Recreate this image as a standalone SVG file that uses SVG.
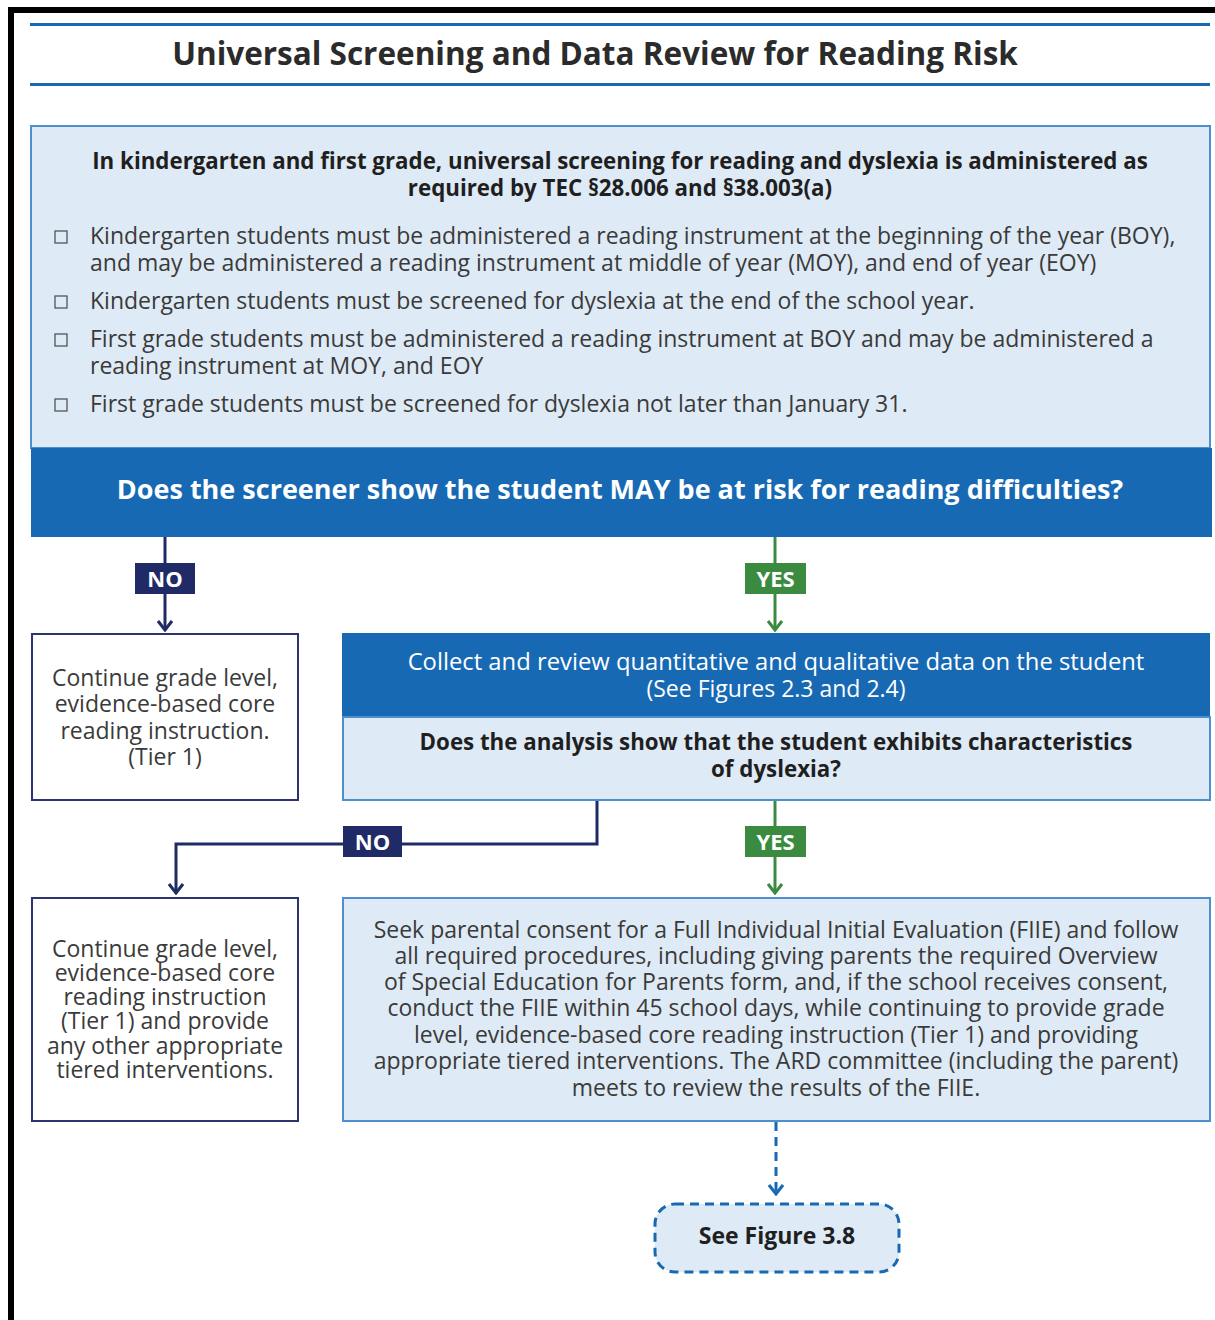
<svg xmlns="http://www.w3.org/2000/svg" width="1215" height="1320" viewBox="0 0 1215 1320">
  <defs>
    <style>
      text { font-family: "Open Sans", "Noto Sans", "Liberation Sans", sans-serif; }
      .title { font-size: 31.5px; font-weight: 700; fill: #2b2b2b; text-anchor: middle; }
      .head { font-size: 22.3px; font-weight: 700; fill: #1f1f1f; text-anchor: middle; }
      .body { font-size: 23px; fill: #3a3a3a; }
      .tight { font-size: 23px; }
      .mid { text-anchor: middle; }
      .white { fill: #ffffff; }
      .q { font-size: 27px; font-weight: 700; fill: #ffffff; text-anchor: middle; }
      .tag { font-size: 22px; font-weight: 700; fill: #ffffff; text-anchor: middle; }
      .light { fill: #deeaf5; stroke: #4f8fcf; stroke-width: 2; }
      .dark { fill: #1769b4; }
      .plain { fill: #ffffff; stroke: #2b3470; stroke-width: 2; }
      .rule { stroke: #1769b4; stroke-width: 3; }
      .chk { fill: none; stroke: #555; stroke-width: 1.3; }
      .no { stroke: #1f2a66; stroke-width: 3; fill: none; }
      .yes { stroke: #3a8a3f; stroke-width: 3; fill: none; }
      .dash { stroke: #1769b4; stroke-width: 3; fill: none; stroke-dasharray: 9 6; }
    </style>
    <!-- open chevron arrowheads, drawn pointing along +x -->
    <marker id="arrNo" viewBox="0 0 12 16" refX="10" refY="8" markerWidth="12" markerHeight="16" markerUnits="userSpaceOnUse" orient="auto">
      <path d="M1 1 L10 8 L1 15" fill="none" stroke="#1f2a66" stroke-width="3"/>
    </marker>
    <marker id="arrYes" viewBox="0 0 12 16" refX="10" refY="8" markerWidth="12" markerHeight="16" markerUnits="userSpaceOnUse" orient="auto">
      <path d="M1 1 L10 8 L1 15" fill="none" stroke="#3a8a3f" stroke-width="3"/>
    </marker>
    <marker id="arrDash" viewBox="0 0 12 16" refX="10" refY="8" markerWidth="12" markerHeight="16" markerUnits="userSpaceOnUse" orient="auto">
      <path d="M1 1 L10 8 L1 15" fill="none" stroke="#1769b4" stroke-width="3"/>
    </marker>
  </defs>

  <rect x="0" y="0" width="1215" height="1320" fill="#ffffff"/>

  <!-- page frame -->
  <rect x="8" y="7" width="1207" height="6" fill="#000000"/>
  <rect x="8" y="7" width="6" height="1313" fill="#000000"/>

  <!-- title -->
  <g id="title">
    <line class="rule" x1="30" y1="24.5" x2="1210" y2="24.5"/>
    <text class="title" x="595" y="65">Universal Screening and Data Review for Reading Risk</text>
    <line class="rule" x1="30" y1="84.5" x2="1210" y2="84.5"/>
  </g>

  <!-- connectors -->
  <g id="connectors">
    <line class="no" x1="165" y1="537" x2="165" y2="630" marker-end="url(#arrNo)"/>
    <line class="yes" x1="775" y1="537" x2="775" y2="630" marker-end="url(#arrYes)"/>
    <polyline class="no" points="597,800 597,844 176,844 176,893" marker-end="url(#arrNo)"/>
    <line class="yes" x1="775" y1="800" x2="775" y2="893" marker-end="url(#arrYes)"/>
    <line class="dash" x1="776" y1="1122" x2="776" y2="1194" marker-end="url(#arrDash)"/>
    <g id="label-no-1">
      <rect x="135" y="563" width="60" height="31" fill="#1f2a66"/>
      <text class="tag" x="165" y="586.5">NO</text>
    </g>
    <g id="label-yes-1">
      <rect x="745" y="563" width="61" height="31" fill="#3a8a3f"/>
      <text class="tag" x="775.5" y="586.5">YES</text>
    </g>
    <g id="label-no-2">
      <rect x="343" y="826" width="59" height="31" fill="#1f2a66"/>
      <text class="tag" x="372.5" y="849.5">NO</text>
    </g>
    <g id="label-yes-2">
      <rect x="745" y="826" width="61" height="31" fill="#3a8a3f"/>
      <text class="tag" x="775.5" y="849.5">YES</text>
    </g>
  </g>

  <!-- screening requirements -->
  <g id="screening">
    <rect class="light" x="31" y="126" width="1179" height="322"/>
    <text class="head" x="620" y="169">In kindergarten and first grade, universal screening for reading and dyslexia is administered as</text>
    <text class="head" x="620" y="196">required by TEC §28.006 and §38.003(a)</text>
    <rect class="chk" x="55" y="231" width="12" height="12"/>
    <text class="body" x="90" y="244">Kindergarten students must be administered a reading instrument at the beginning of the year (BOY),</text>
    <text class="body" x="90" y="271">and may be administered a reading instrument at middle of year (MOY), and end of year (EOY)</text>
    <rect class="chk" x="55" y="296" width="12" height="12"/>
    <text class="body" x="90" y="309">Kindergarten students must be screened for dyslexia at the end of the school year.</text>
    <rect class="chk" x="55" y="334" width="12" height="12"/>
    <text class="body" x="90" y="347">First grade students must be administered a reading instrument at BOY and may be administered a</text>
    <text class="body" x="90" y="374">reading instrument at MOY, and EOY</text>
    <rect class="chk" x="55" y="399" width="12" height="12"/>
    <text class="body" x="90" y="412">First grade students must be screened for dyslexia not later than January 31.</text>
  </g>

  <!-- risk question -->
  <g id="risk-question">
    <rect class="dark" x="31" y="448" width="1181" height="89"/>
    <text class="q" x="620" y="499">Does the screener show the student MAY be at risk for reading difficulties?</text>
  </g>

  <!-- no risk: continue tier 1 -->
  <g id="continue-tier1">
    <rect class="plain" x="32" y="634" width="266" height="166"/>
    <text class="body mid" x="165" y="686">Continue grade level,</text>
    <text class="body mid" x="165" y="712">evidence-based core</text>
    <text class="body mid" x="165" y="739">reading instruction.</text>
    <text class="body mid" x="165" y="765">(Tier 1)</text>
  </g>

  <!-- collect and review data -->
  <g id="collect-data">
    <rect class="dark" x="342" y="633" width="868" height="84"/>
    <rect class="light" x="343" y="717" width="867" height="83"/>
    <text class="body mid white" x="776" y="670" style="font-size:23.8px">Collect and review quantitative and qualitative data on the student</text>
    <text class="body mid white" x="776" y="697">(See Figures 2.3 and 2.4)</text>
    <text class="head" x="776" y="750">Does the analysis show that the student exhibits characteristics</text>
    <text class="head" x="776" y="777">of dyslexia?</text>
  </g>

  <!-- no dyslexia characteristics -->
  <g id="continue-interventions">
    <rect class="plain" x="32" y="898" width="266" height="223"/>
    <text class="body mid tight" x="165" y="957">Continue grade level,</text>
    <text class="body mid tight" x="165" y="981">evidence-based core</text>
    <text class="body mid tight" x="165" y="1005">reading instruction</text>
    <text class="body mid tight" x="165" y="1029">(Tier 1) and provide</text>
    <text class="body mid tight" x="165" y="1054">any other appropriate</text>
    <text class="body mid tight" x="165" y="1078">tiered interventions.</text>
  </g>

  <!-- evaluation -->
  <g id="fiie">
    <rect class="light" x="343" y="898" width="867" height="223"/>
    <text class="body mid" x="776" y="938">Seek parental consent for a Full Individual Initial Evaluation (FIIE) and follow</text>
    <text class="body mid" x="776" y="964">all required procedures, including giving parents the required Overview</text>
    <text class="body mid" x="776" y="990">of Special Education for Parents form, and, if the school receives consent,</text>
    <text class="body mid" x="776" y="1016">conduct the FIIE within 45 school days, while continuing to provide grade</text>
    <text class="body mid" x="776" y="1043">level, evidence-based core reading instruction (Tier 1) and providing</text>
    <text class="body mid" x="776" y="1069">appropriate tiered interventions. The ARD committee (including the parent)</text>
    <text class="body mid" x="776" y="1096">meets to review the results of the FIIE.</text>
  </g>

  <!-- next figure -->
  <g id="see-figure">
    <rect x="655" y="1204" width="244" height="68" rx="20" ry="20" fill="#deeaf5" stroke="#1769b4" stroke-width="3" stroke-dasharray="9 6"/>
    <text class="head" x="777" y="1244" style="font-size:23px">See Figure 3.8</text>
  </g>
</svg>
